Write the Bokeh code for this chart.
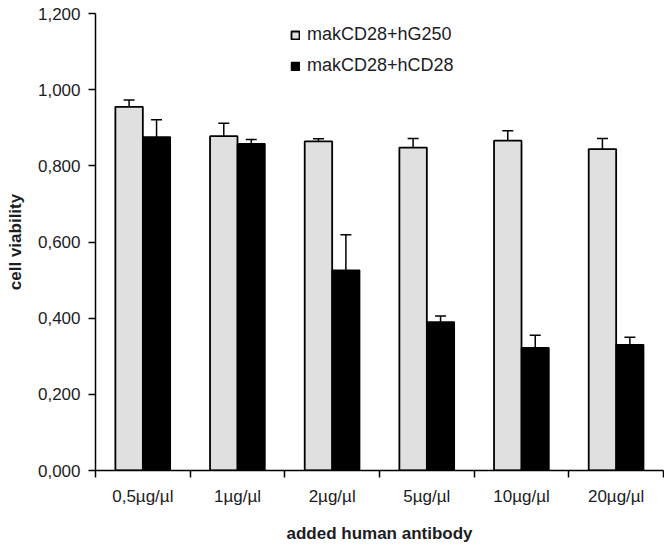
import numpy as np
from bokeh.plotting import figure
from bokeh.models import (Range1d, FixedTicker, Whisker, TeeHead, ColumnDataSource,
                          Legend, LegendItem)
from bokeh.embed import file_html
from bokeh.resources import INLINE

categories = ["0,5µg/µl", "1µg/µl", "2µg/µl", "5µg/µl", "10µg/µl", "20µg/µl"]
g250 = [0.955, 0.878, 0.864, 0.848, 0.866, 0.844]
g250_err = [0.018, 0.034, 0.007, 0.024, 0.026, 0.028]
cd28 = [0.876, 0.858, 0.526, 0.390, 0.322, 0.330]
cd28_err = [0.045, 0.011, 0.093, 0.016, 0.033, 0.020]
y_ticks = [0.0, 0.2, 0.4, 0.6, 0.8, 1.0, 1.2]
y_tick_labels = ["0,000", "0,200", "0,400", "0,600", "0,800", "1,000", "1,200"]
series_names = ["makCD28+hG250", "makCD28+hCD28"]

FONT = "Liberation Sans"
TXT = "#1c1c24"
bw = 0.29
idx = np.arange(len(categories)) + 0.5

p = figure(width=664, height=545, output_backend="svg", toolbar_location=None,
           x_range=Range1d(0, len(categories)), y_range=Range1d(0, 1.2),
           min_border_left=95, min_border_right=1, min_border_top=13, min_border_bottom=70)
p.outline_line_color = None
p.grid.grid_line_color = None
p.background_fill_color = "white"

s1 = ColumnDataSource(dict(x=idx - bw / 2, top=g250,
                           upper=np.array(g250) + np.array(g250_err),
                           lower=np.array(g250) - np.array(g250_err)))
s2 = ColumnDataSource(dict(x=idx + bw / 2, top=cd28,
                           upper=np.array(cd28) + np.array(cd28_err),
                           lower=np.array(cd28) - np.array(cd28_err)))

r1 = p.vbar(x="x", top="top", width=bw, bottom=0, source=s1,
            fill_color="#e0e0e0", line_color="black", line_width=1.8)
r2 = p.vbar(x="x", top="top", width=bw, bottom=0, source=s2,
            fill_color="black", line_color="black", line_width=1.5)

for s in (s1, s2):
    w = Whisker(base="x", upper="upper", lower="lower", source=s,
                line_color="black", line_width=1.5,
                upper_head=TeeHead(size=11, line_color="black", line_width=1.5),
                lower_head=TeeHead(size=11, line_color="black", line_width=1.5))
    p.add_layout(w)

# x axis
xa = p.xaxis[0]
xa.ticker = FixedTicker(ticks=list(idx), minor_ticks=list(range(len(categories) + 1)))
xa.major_label_overrides = {float(v): c for v, c in zip(idx, categories)}
xa.major_tick_out = 0
xa.major_tick_in = 0
xa.minor_tick_out = 7
xa.minor_tick_in = 0
xa.minor_tick_line_color = "black"
xa.minor_tick_line_width = 1.5
xa.axis_line_color = "black"
xa.axis_line_width = 1.5
xa.major_label_standoff = 9
xa.major_label_text_font = FONT
xa.major_label_text_font_size = "17px"
xa.major_label_text_color = TXT
xa.axis_label = "added human antibody"
xa.axis_label_text_font = FONT
xa.axis_label_text_font_size = "17px"
xa.axis_label_text_font_style = "bold"
xa.axis_label_text_color = TXT
xa.axis_label_standoff = 15

# y axis
ya = p.yaxis[0]
ya.ticker = FixedTicker(ticks=y_ticks, minor_ticks=[])
ya.major_label_overrides = {float(v): l for v, l in zip(y_ticks, y_tick_labels)}
ya.major_tick_out = 7
ya.major_tick_in = 0
ya.major_tick_line_width = 1.5
ya.axis_line_color = "black"
ya.axis_line_width = 1.5
ya.major_label_standoff = 8
ya.major_label_text_font = FONT
ya.major_label_text_font_size = "17px"
ya.major_label_text_color = TXT
ya.axis_label = "cell viability"
ya.axis_label_text_font = FONT
ya.axis_label_text_font_size = "17px"
ya.axis_label_text_font_style = "bold"
ya.axis_label_text_color = TXT
ya.axis_label_standoff = 10

legend = Legend(items=[LegendItem(label=series_names[0], renderers=[r1]),
                       LegendItem(label=series_names[1], renderers=[r2])],
                location=(195, 394), orientation="vertical",
                glyph_width=10, glyph_height=10, label_height=20,
                spacing=10, padding=0, margin=0,
                label_text_font=FONT, label_text_font_size="18px",
                label_text_color=TXT, label_standoff=7,
                background_fill_alpha=0, border_line_color=None)
p.add_layout(legend)

open("out.html", "w").write(file_html(p, INLINE))
